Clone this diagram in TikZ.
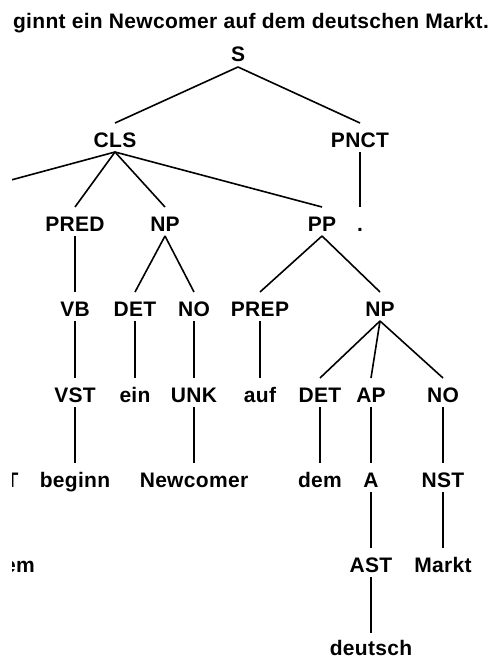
\documentclass[tikz,border=0pt]{standalone}
\usepackage{fontspec}
\setmainfont{Liberation Sans}[LetterSpace=1.5]
\begin{document}
\begin{tikzpicture}[x=1pt,y=-1pt,
  lbl/.style={font=\fontsize{21}{24}\selectfont\bfseries, inner sep=0pt, anchor=base},
  edge/.style={line width=1.6pt, line cap=butt}]
\useasboundingbox (0,0) rectangle (495,658);
\fill[white] (0,0) rectangle (495,658);
\node[lbl] (title) at (251,29) {ginnt ein Newcomer auf dem deutschen Markt.};
\begin{scope}
\clip (12,0) rectangle (495,658);
% row 1
\node[lbl] (S) at (238,62) {S};
% row 2
\node[lbl] (CLS) at (115,147) {CLS};
\node[lbl] (PNCT) at (360,147) {PNCT};
% row 3
\node[lbl] (PRED) at (75,231) {PRED};
\node[lbl] (NPa) at (165,231) {NP};
\node[lbl] (PP) at (322,231) {PP};
\node[lbl] (dot) at (360,231) {.};
% row 4
\node[lbl] (VB) at (75,316) {VB};
\node[lbl] (DETa) at (135,316) {DET};
\node[lbl] (NOa) at (194,316) {NO};
\node[lbl] (PREP) at (260,316) {PREP};
\node[lbl] (NPb) at (380,316) {NP};
% row 5
\node[lbl] (VST) at (75,402) {VST};
\node[lbl] (ein) at (135,402) {ein};
\node[lbl] (UNK) at (194,402) {UNK};
\node[lbl] (auf) at (260,402) {auf};
\node[lbl] (DETb) at (320,402) {DET};
\node[lbl] (AP) at (371,402) {AP};
\node[lbl] (NOb) at (443,402) {NO};
% row 6
\node[lbl] (Tcut) at (12,487) {T};
\node[lbl] (beginn) at (75,487) {beginn};
\node[lbl] (Newcomer) at (194,487) {Newcomer};
\node[lbl] (dem) at (320,487) {dem};
\node[lbl] (A) at (371,487) {A};
\node[lbl] (NST) at (443,487) {NST};
% row 7
\node[lbl, anchor=base east] (emcut) at (35,572) {em};
\node[lbl] (AST) at (371,572) {AST};
\node[lbl] (Markt) at (443,572) {Markt};
% row 8
\node[lbl] (deutsch) at (371,655) {deutsch};
\coordinate (leftend) at (0,183);

\newcommand{\tedge}[2]{\draw[edge] ([yshift=-5pt]#1.base) -- ([yshift=24pt]#2.base);}
\tedge{S}{CLS}
\tedge{S}{PNCT}
\draw[edge] ([yshift=-5pt]CLS.base) -- (leftend);
\tedge{CLS}{PRED}
\tedge{CLS}{NPa}
\tedge{CLS}{PP}
\tedge{PNCT}{dot}
\tedge{PRED}{VB}
\tedge{NPa}{DETa}
\tedge{NPa}{NOa}
\tedge{PP}{PREP}
\tedge{PP}{NPb}
\tedge{VB}{VST}
\tedge{DETa}{ein}
\tedge{NOa}{UNK}
\tedge{PREP}{auf}
\tedge{NPb}{DETb}
\tedge{NPb}{AP}
\tedge{NPb}{NOb}
\tedge{VST}{beginn}
\tedge{UNK}{Newcomer}
\tedge{DETb}{dem}
\tedge{AP}{A}
\tedge{NOb}{NST}
\tedge{A}{AST}
\tedge{NST}{Markt}
\draw[edge] ([yshift=-5pt]AST.base) -- ([yshift=22pt]deutsch.base);
\end{scope}
\end{tikzpicture}
\end{document}
